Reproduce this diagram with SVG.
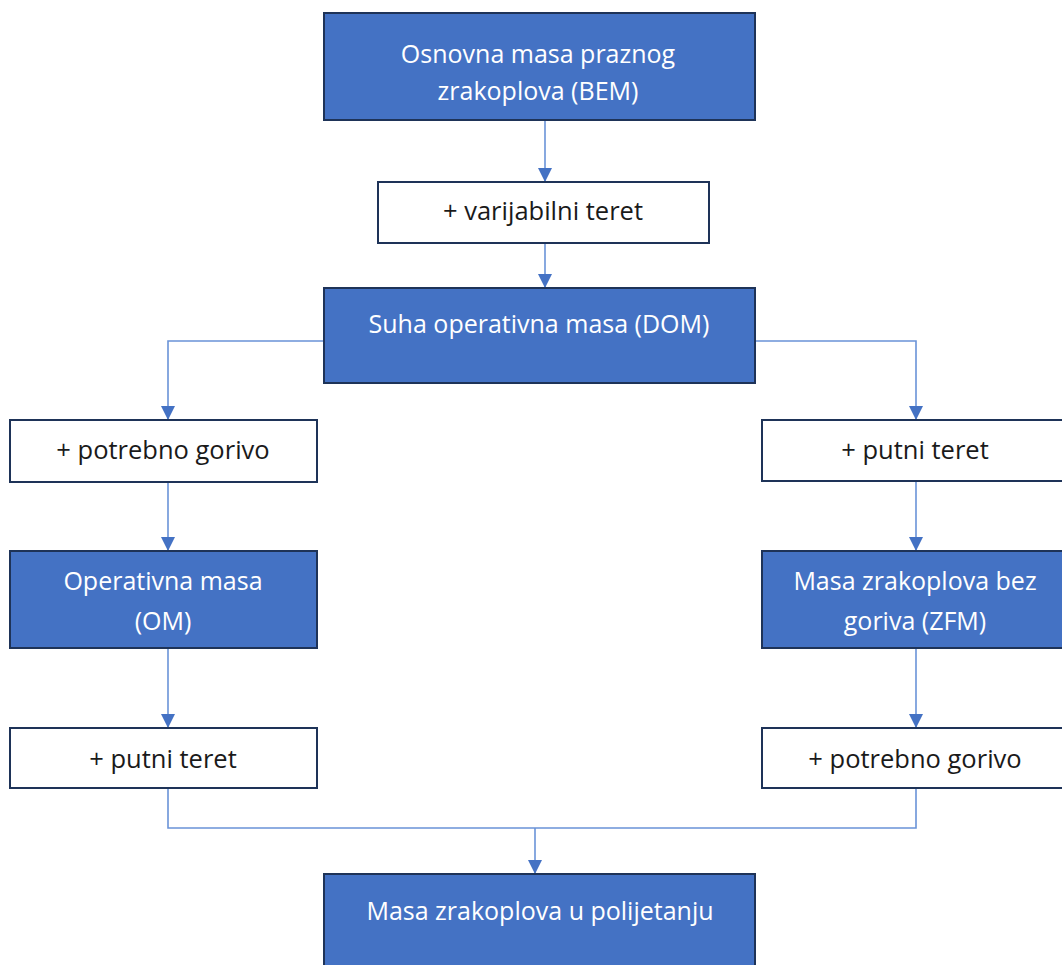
<svg xmlns="http://www.w3.org/2000/svg" width="1062" height="965" viewBox="0 0 1062 965">
  <defs>
    <marker id="arr" markerUnits="userSpaceOnUse" markerWidth="14" markerHeight="14" viewBox="0 0 14 14" refX="14" refY="7" orient="auto">
      <path d="M0,0 L14,7 L0,14 Z" fill="#4472C4"/>
    </marker>
    <style>
      .blue { fill: #4472C4; stroke: #1E3358; stroke-width: 2; }
      .white { fill: #FFFFFF; stroke: #1E3358; stroke-width: 2; }
      .tw { fill: #FFFFFF; font-family: "Open Sans", "Liberation Sans", sans-serif; font-size: 25px; text-anchor: middle; }
      .tb { fill: #1A1A1A; font-family: "Open Sans", "Liberation Sans", sans-serif; font-size: 25.5px; text-anchor: middle; }
      .conn { fill: none; stroke: #6A93D8; stroke-width: 1.6; }
    </style>
  </defs>
  <rect width="1062" height="965" fill="#FFFFFF"/>

  <g id="connectors">
    <path class="conn" d="M545,120 V182" marker-end="url(#arr)"/>
    <path class="conn" d="M545,243 V288" marker-end="url(#arr)"/>
    <path class="conn" d="M324,341 H168 V420" marker-end="url(#arr)"/>
    <path class="conn" d="M755,341 H916 V420" marker-end="url(#arr)"/>
    <path class="conn" d="M168,482 V551" marker-end="url(#arr)"/>
    <path class="conn" d="M168,648 V728" marker-end="url(#arr)"/>
    <path class="conn" d="M916,481 V551" marker-end="url(#arr)"/>
    <path class="conn" d="M916,648 V728" marker-end="url(#arr)"/>
    <path class="conn" d="M168,788 V828 H916 V788"/>
    <path class="conn" d="M535,828 V874" marker-end="url(#arr)"/>
  </g>

  <g id="bem">
    <rect class="blue" x="324" y="13" width="431" height="107"/>
    <text class="tw" x="538" y="63">Osnovna masa praznog</text>
    <text class="tw" x="538" y="100">zrakoplova (BEM)</text>
  </g>

  <g id="varijabilni">
    <rect class="white" x="378" y="182" width="331" height="61"/>
    <text class="tb" x="543" y="220">+ varijabilni teret</text>
  </g>

  <g id="dom">
    <rect class="blue" x="324" y="288" width="431" height="95"/>
    <text class="tw" x="539" y="333">Suha operativna masa (DOM)</text>
  </g>

  <g id="gorivo-left">
    <rect class="white" x="10" y="420" width="307" height="62"/>
    <text class="tb" x="163" y="459">+ potrebno gorivo</text>
  </g>

  <g id="teret-right">
    <rect class="white" x="762" y="420" width="308" height="61"/>
    <text class="tb" x="915" y="459">+ putni teret</text>
  </g>

  <g id="om">
    <rect class="blue" x="10" y="551" width="307" height="97"/>
    <text class="tw" x="163" y="590">Operativna masa</text>
    <text class="tw" x="163" y="630">(OM)</text>
  </g>

  <g id="zfm">
    <rect class="blue" x="762" y="551" width="308" height="97"/>
    <text class="tw" x="915" y="590">Masa zrakoplova bez</text>
    <text class="tw" x="915" y="630">goriva (ZFM)</text>
  </g>

  <g id="teret-left">
    <rect class="white" x="10" y="728" width="307" height="60"/>
    <text class="tb" x="163" y="768">+ putni teret</text>
  </g>

  <g id="gorivo-right">
    <rect class="white" x="762" y="728" width="308" height="60"/>
    <text class="tb" x="915" y="768">+ potrebno gorivo</text>
  </g>

  <g id="mtow">
    <rect class="blue" x="324" y="874" width="431" height="110"/>
    <text class="tw" x="540" y="920">Masa zrakoplova u polijetanju</text>
  </g>
</svg>
